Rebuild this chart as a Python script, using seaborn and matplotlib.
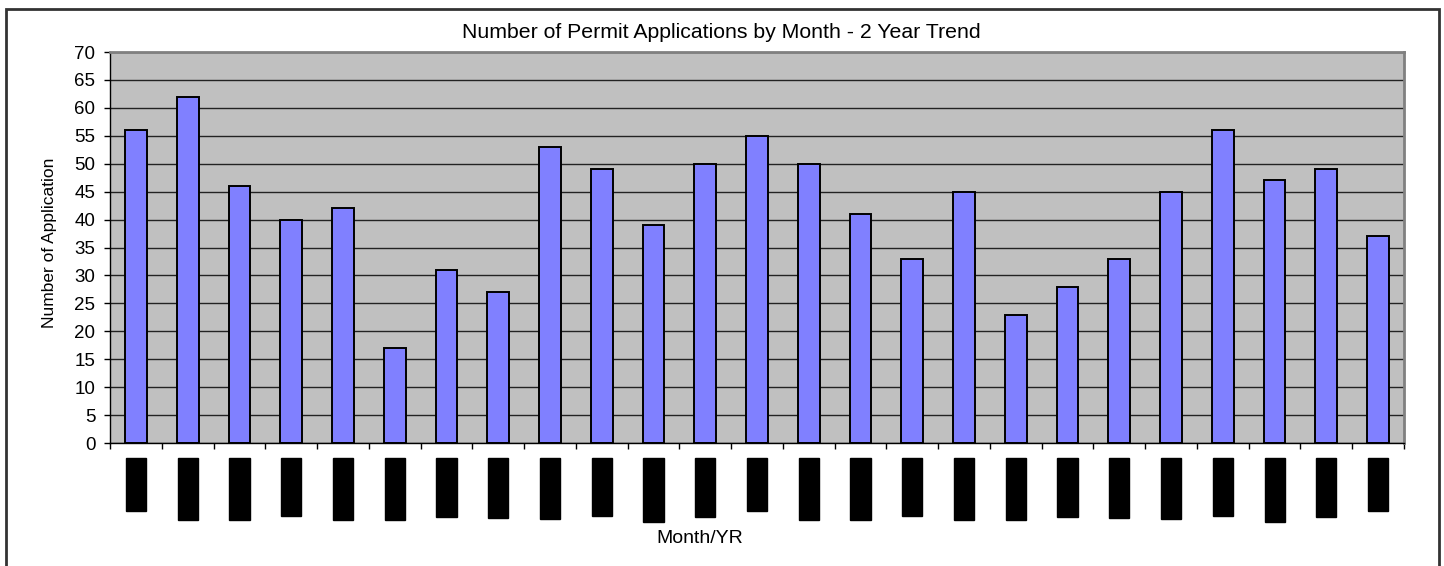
import matplotlib.pyplot as plt
import matplotlib.patches as mpatches
import numpy as np
import seaborn as sns

# monthly permit counts
months = [
    "Jul-06", "Aug-06", "Sep-06", "Oct-06", "Nov-06", "Dec-06",
    "Jan-07", "Feb-07", "Mar-07", "Apr-07", "May-07", "Jun-07",
    "Jul-07", "Aug-07", "Sep-07", "Oct-07", "Nov-07", "Dec-07",
    "Jan-08", "Feb-08", "Mar-08", "Apr-08", "May-08", "Jun-08",
    "Jul-08",
]
applications = [56, 62, 46, 40, 42, 17, 31, 27, 53, 49, 39, 50, 55,
                50, 41, 33, 45, 23, 28, 33, 45, 56, 47, 49, 37]
y_ticks = list(range(0, 75, 5))

sns.set_style("white")
plt.rcParams["font.family"] = ["Liberation Sans", "DejaVu Sans"]
plt.rcParams["text.color"] = "black"
plt.rcParams["axes.labelcolor"] = "black"
plt.rcParams["xtick.color"] = "black"
plt.rcParams["ytick.color"] = "black"

fig = plt.figure(figsize=(14.44, 5.66), dpi=100)
ax = fig.add_axes([0.0762, 0.2173, 0.8961, 0.6908])
ax.set_facecolor("#C0C0C0")

sns.barplot(x=months, y=applications, color="#8080FF", saturation=1,
            edgecolor="black", linewidth=1.4, width=0.42, ax=ax)

ax.set_xlim(-0.5, len(months) - 0.5)
ax.set_ylim(0, 70)
ax.set_yticks(y_ticks)
ax.yaxis.grid(True, color="#222222", linewidth=1)
ax.set_axisbelow(True)

# spines: dark left/bottom, grey top/right like the old excel look
for side in ["left", "bottom"]:
    ax.spines[side].set_color("black")
    ax.spines[side].set_linewidth(1)
for side in ["top", "right"]:
    ax.spines[side].set_color("#808080")
    ax.spines[side].set_linewidth(2)

ax.tick_params(axis="y", left=True, length=4.5, width=1, color="black",
               labelsize=13.5, pad=6)
ax.set_xticks(np.arange(-0.5, len(months), 1), minor=True)
ax.tick_params(axis="x", which="minor", bottom=True, length=4.5, width=1,
               color="black")
ax.tick_params(axis="x", which="major", length=0, labelsize=12.5, pad=13,
               labelrotation=90)
# the month labels come out as solid black blocks in the original
for lbl in ax.get_xticklabels():
    lbl.set_color("black")
    lbl.set_bbox(dict(facecolor="black", edgecolor="black",
                      boxstyle="square,pad=0.15"))

ax.set_xlabel("Month/YR", fontsize=14)
ax.xaxis.set_label_coords(0.456, -0.222)
ax.set_ylabel("Number of Application", fontsize=12.5)
ax.yaxis.set_label_coords(-0.041, 0.511)

fig.text(0.4995, 0.943, "Number of Permit Applications by Month - 2 Year Trend",
         ha="center", va="center", fontsize=15.3)

# outer chart border
fig.patches.append(mpatches.Rectangle((6 / 1444, -0.02), 1433 / 1444, 1.004,
                                      transform=fig.transFigure, fill=False,
                                      edgecolor="#333333", linewidth=2))

fig.savefig("out.png", dpi=100)
